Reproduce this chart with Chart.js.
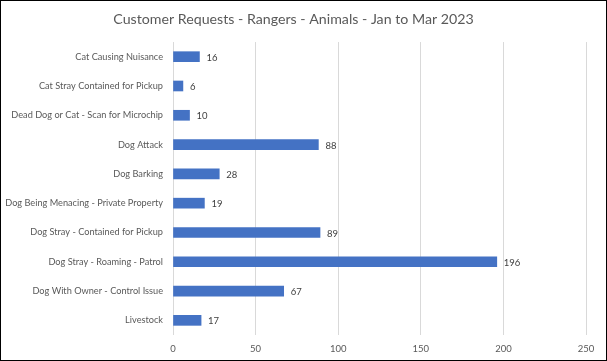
<!DOCTYPE html>
<html>
<head>
<meta charset="utf-8">
<script src="https://cdn.jsdelivr.net/npm/chart.js@4"></script>
<style>
  body { margin: 0; background: #fff; }
  #wrap { width: 605px; height: 359px; border: 1px solid #000; position: relative; }
</style>
</head>
<body>
<div id="wrap"><canvas id="chart" width="605" height="359"></canvas></div>
<script>
const categories = [
    'Cat Causing Nuisance',
    'Cat Stray Contained for Pickup',
    'Dead Dog or Cat - Scan for Microchip',
    'Dog Attack',
    'Dog Barking',
    'Dog Being Menacing - Private Property',
    'Dog Stray - Contained for Pickup',
    'Dog Stray - Roaming - Patrol',
    'Dog With Owner - Control Issue',
    'Livestock'
];
const requests = [16, 6, 10, 88, 28, 19, 89, 196, 67, 17];
const xTicks = [0, 50, 100, 150, 200, 250];

const FONT = 'Lato, "Open Sans", sans-serif';
const TEXT = '#595959';

// value labels at the end of each bar
const barLabels = {
    id: 'barLabels',
    afterDatasetsDraw(chart) {
        const ctx = chart.ctx;
        const meta = chart.getDatasetMeta(0);
        ctx.save();
        ctx.font = '9.5px ' + FONT;
        ctx.fillStyle = '#404040';
        ctx.textAlign = 'left';
        ctx.textBaseline = 'middle';
        meta.data.forEach((bar, i) => {
            ctx.fillText(String(chart.data.datasets[0].data[i]), bar.x + 7, bar.y + 1);
        });
        ctx.restore();
    }
};

new Chart(document.getElementById('chart').getContext('2d'), {
    type: 'bar',
    data: {
        labels: categories,
        datasets: [{
            data: requests,
            backgroundColor: '#4472C4',
            borderWidth: 0,
            barThickness: 10
        }]
    },
    options: {
        indexAxis: 'y',
        responsive: false,
        animation: false,
        layout: { padding: { left: 0, right: 20, top: 0, bottom: 0 } },
        plugins: {
            legend: { display: false },
            tooltip: { enabled: false },
            title: {
                display: true,
                text: 'Customer Requests - Rangers - Animals - Jan to Mar 2023',
                color: TEXT,
                font: { family: FONT, size: 14.2, weight: 'normal' },
                padding: { top: 10, bottom: 14 }
            }
        },
        scales: {
            x: {
                min: xTicks[0],
                max: xTicks[xTicks.length - 1],
                afterBuildTicks(scale) { scale.ticks = xTicks.map(v => ({ value: v })); },
                grid: { color: '#d9d9d9', drawTicks: false },
                border: { display: false },
                ticks: { color: TEXT, font: { family: FONT, size: 9.5 }, padding: 8 },
                afterFit(scale) { scale.height = 25; }
            },
            y: {
                grid: { display: false, drawTicks: false },
                border: { display: false },
                ticks: { color: TEXT, font: { family: FONT, size: 9.2 }, padding: 10 },
                afterFit(scale) { scale.width = 172; }
            }
        }
    },
    plugins: [barLabels]
});
</script>
</body>
</html>
